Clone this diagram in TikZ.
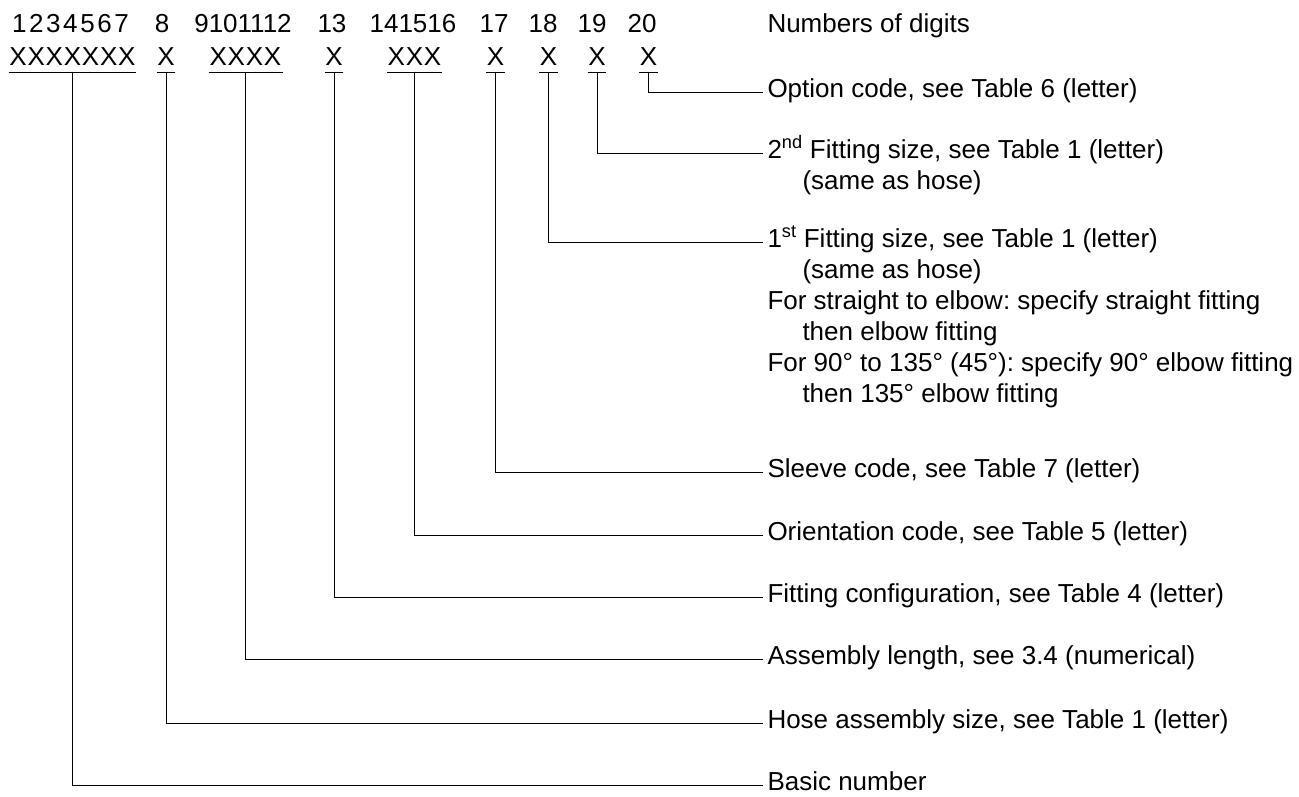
\documentclass[tikz,border=0pt]{standalone}
\usepackage{fontspec}
\setmainfont{Liberation Sans}
\usetikzlibrary{positioning}
\frenchspacing

\begin{document}
\begin{tikzpicture}[x=1pt,y=-1pt,line width=1pt,
  dig/.style={anchor=base,inner sep=0pt,font=\fontsize{26}{31}\selectfont},
  grp/.style={anchor=base,inner xsep=0pt,inner ysep=6.7pt,text depth=0pt,font=\fontsize{26}{31}\selectfont\addfontfeature{LetterSpace=3}},
  lbl/.style={anchor=base west,inner sep=0pt,font=\fontsize{26}{31}\selectfont}]
\useasboundingbox (0,0) rectangle (1299,796);
% digit numbers
\node[dig,font=\fontsize{26}{31}\selectfont\addfontfeature{LetterSpace=10}] (d1) at (70.5,32) {1234567};
\node[dig] (d2) at (162,32) {8};
\node[dig] (d3) at (243,32) {9101112};
\node[dig] (d4) at (332,32) {13};
\node[dig] (d5) at (413,32) {141516};
\node[dig] (d6) at (494,32) {17};
\node[dig] (d7) at (543,32) {18};
\node[dig] (d8) at (592,32) {19};
\node[dig] (d9) at (642,32) {20};
% code groups
\node[grp,minimum width=125pt] (g1) at (72.5,65) {XXXXXXX};
\node[grp,minimum width=16pt] (g2) at (166,65) {X};
\node[grp,minimum width=73pt] (g3) at (245.5,65) {XXXX};
\node[grp,minimum width=16pt] (g4) at (334,65) {X};
\node[grp,minimum width=53pt] (g5) at (414.5,65) {XXX};
\node[grp,minimum width=16pt] (g6) at (495.5,65) {X};
\node[grp,minimum width=16pt] (g7) at (548.5,65) {X};
\node[grp,minimum width=16pt] (g8) at (597,65) {X};
\node[grp,minimum width=16pt] (g9) at (648.5,65) {X};
\foreach \g in {g1,g2,g3,g4,g5,g6,g7,g8,g9}
  \draw (\g.south west) -- (\g.south east);
% labels
\node[lbl] (l0) at (767,32) {Numbers of digits};
\node[lbl] (l1) at (767,97) {Option code, see Table 6 (letter)};
\node[lbl] (l2) at (767,158) {\begin{tabular}[t]{@{}l@{}}2\textsuperscript{nd} Fitting size, see Table 1 (letter)\\\hspace*{35pt}(same as hose)\end{tabular}};
\node[lbl] (l3) at (767,247) {\begin{tabular}[t]{@{}l@{}}1\textsuperscript{st} Fitting size, see Table 1 (letter)\\\hspace*{35pt}(same as hose)\\For straight to elbow: specify straight fitting\\\hspace*{35pt}then elbow fitting\\For 90° to 135° (45°): specify 90° elbow fitting\\\hspace*{35pt}then 135° elbow fitting\end{tabular}};
\node[lbl] (l4) at (767,477) {Sleeve code, see Table 7 (letter)};
\node[lbl] (l5) at (767,540) {Orientation code, see Table 5 (letter)};
\node[lbl] (l6) at (767,602) {Fitting configuration, see Table 4 (letter)};
\node[lbl] (l7) at (767,664) {Assembly length, see 3.4 (numerical)};
\node[lbl] (l8) at (767,728) {Hose assembly size, see Table 1 (letter)};
\node[lbl] (l9) at (767,790) {Basic number};
% connectors
\foreach \g/\l in {g9/l1,g8/l2,g7/l3,g6/l4,g5/l5,g4/l6,g3/l7,g2/l8,g1/l9}
  \draw (\g.south) |- ([xshift=-4pt,yshift=5pt]\l.base west);
\end{tikzpicture}
\end{document}
